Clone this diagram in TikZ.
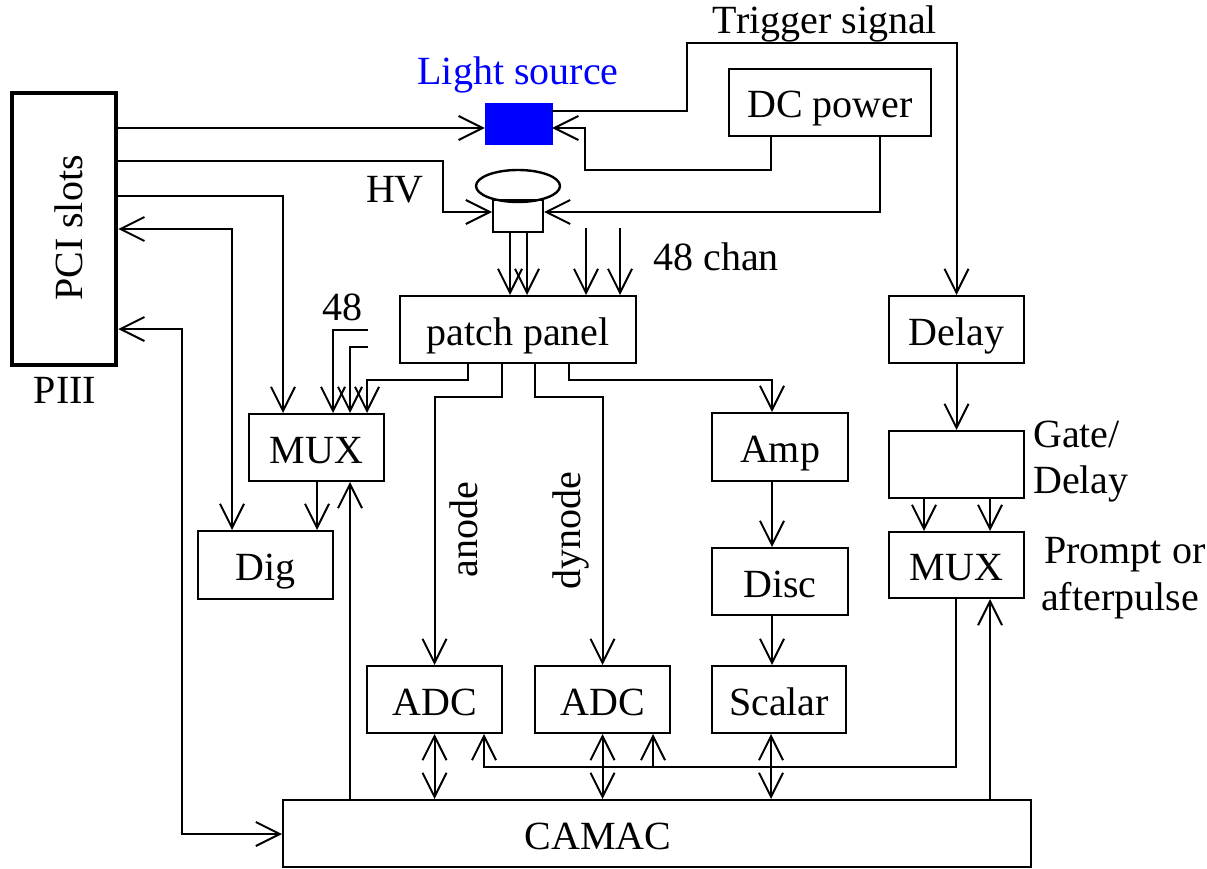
\documentclass[tikz,border=0pt]{standalone}
\usepackage{fontspec}
\setmainfont{Liberation Serif}
\usetikzlibrary{arrows.meta,shapes.geometric}
\begin{document}
\begin{tikzpicture}[x=1pt,y=-1pt,
  box/.style={draw, line width=2pt, inner sep=0pt, text height=31pt, text depth=0pt, font=\fontsize{40}{44}\selectfont},
  lbl/.style={inner sep=0pt, font=\fontsize{40}{44}\selectfont},
  ln/.style={line width=2pt},
  tip/.tip={Straight Barb[length=24pt,width=24pt]},
  arr/.style={ln, -tip},
  darr/.style={ln, tip-tip}]
\useasboundingbox (0,0) rectangle (1207,869);
% nodes
\node[box, line width=4.5pt, minimum width=104, minimum height=272] (pci) at (64,229) {};
\node[lbl, rotate=90, anchor=base] (pcit) at (82,228) {PCI slots};
\node[lbl, anchor=base] (piii) at (65,403) {PIII};
\node[fill=blue, draw=blue, minimum width=67, minimum height=41, inner sep=0pt] (ls) at (518.5,123.5) {};
\node[lbl, anchor=base, text=blue] (lst) at (518,85) {Light source};
\node[lbl, anchor=base] (trig) at (825,34) {Trigger signal};
\node[box, minimum width=202, minimum height=67] (dc) at (830,102.5) {DC power};
\node[draw, ellipse, line width=2.4pt, minimum width=84, minimum height=32, inner sep=0pt] (pmt) at (518,186) {};
\node[box, minimum width=50, minimum height=26] (base) at (518,216) {};
\node[lbl, anchor=base] (hv) at (395,203) {HV};
\node[lbl, anchor=base] (chan) at (716,270) {48 chan};
\node[box, minimum width=236, minimum height=67] (patch) at (518,329.5) {patch panel};
\node[box, minimum width=135, minimum height=67] (delay) at (956.5,329.5) {Delay};
\node[lbl, anchor=base] (n48) at (342,320) {48};
\node[box, minimum width=135, minimum height=67] (mux1) at (316.5,447.5) {MUX};
\node[box, minimum width=136, minimum height=68] (amp) at (780,447) {Amp};
\node[box, minimum width=135, minimum height=67] (gate) at (956.5,464.5) {};
\node[lbl, anchor=base west] (gatet) at (1033,447) {Gate/};
\node[lbl, anchor=base west] (gatet2) at (1033,493) {Delay};
\node[box, minimum width=135, minimum height=68] (dig) at (265.5,565) {Dig};
\node[box, minimum width=136, minimum height=67] (disc) at (780,581.5) {Disc};
\node[box, minimum width=135, minimum height=66] (mux2) at (956.5,565) {MUX};
\node[lbl, anchor=base west] (prompt) at (1044,563) {Prompt or};
\node[lbl, anchor=base west] (after) at (1041,610) {afterpulse};
\node[lbl, rotate=90, anchor=base] (anode) at (477,530) {anode};
\node[lbl, rotate=90, anchor=base] (dynode) at (580,531) {dynode};
\node[box, minimum width=135, minimum height=67] (adc1) at (434.5,699.5) {ADC};
\node[box, minimum width=135, minimum height=67] (adc2) at (602.5,699.5) {ADC};
\node[box, minimum width=134, minimum height=67] (scal) at (779,699.5) {Scalar};
\node[box, minimum width=748, minimum height=67] (camac) at (657,833.5) {};
\node[lbl, anchor=base] (camact) at (598,849) {CAMAC};
% free ends
\coordinate (c1) at (586,228);
\coordinate (c2) at (620,228);
\coordinate (i1) at (368,330);
\coordinate (i2) at (368,347);
% connectors
\draw[arr] (pci.east |- 0,128) -- (ls.west |- 0,128);
\draw[arr] (ls.east |- 0,111) -- (687,111) -- (687,43) -| (delay.north);
\draw[arr] (dc.south -| 771,0) -- (771,170) -- (585,170) -- (585,128) -- (ls.east |- 0,128);
\draw[arr] (dc.south -| 880,0) -- (880,212) -- (base.east |- 0,212);
\draw[arr] (pci.east |- 0,161) -- (443,161) -- (443,212) -- (base.west |- 0,212);
\draw[arr] (base.south -| 510,0) -- (patch.north -| 510,0);
\draw[arr] (base.south -| 527,0) -- (patch.north -| 527,0);
\draw[arr] (c1) -- (patch.north -| c1);
\draw[arr] (c2) -- (patch.north -| c2);
\draw[arr] (pci.east |- 0,196) -| (mux1.north -| 283,0);
\draw[darr] (pci.east |- 0,229) -| (dig.north -| 232,0);
\draw[darr] (pci.east |- 0,329) -- (182,329) |- (camac.west |- 0,834);
\draw[arr] (i1) -| (mux1.north -| 333,0);
\draw[arr] (i2) -| (mux1.north -| 350,0);
\draw[arr] (patch.south -| 468,0) |- (367,380) -- (mux1.north -| 367,0);
\draw[arr] (patch.south -| 502,0) |- (434.5,397) -- (adc1.north);
\draw[arr] (patch.south -| 535,0) |- (602.5,397) -- (adc2.north);
\draw[arr] (patch.south -| 569,0) |- (772,380) -- (amp.north -| 772,0);
\draw[arr] (mux1.south -| 317,0) -- (dig.north -| 317,0);
\draw[arr] (camac.north -| 350,0) -- (mux1.south -| 350,0);
\draw[arr] (amp.south -| 772,0) -- (disc.north -| 772,0);
\draw[arr] (disc.south -| 772,0) -- (scal.north -| 772,0);
\draw[arr] (delay.south) -- (gate.north);
\draw[arr] (gate.south -| 924,0) -- (mux2.north -| 924,0);
\draw[arr] (gate.south -| 990,0) -- (mux2.north -| 990,0);
\draw[arr] (camac.north -| 990,0) -- (mux2.south -| 990,0);
\draw[arr] (mux2.south -| 956,0) |- (484,767) -- (adc1.south -| 484,0);
\draw[arr] (653,767) -- (adc2.south -| 653,0);
\draw[darr] (adc1.south) -- (camac.north -| adc1.south);
\draw[darr] (adc2.south) -- (camac.north -| adc2.south);
\draw[darr] (scal.south -| 771,0) -- (camac.north -| 771,0);
\end{tikzpicture}
\end{document}
